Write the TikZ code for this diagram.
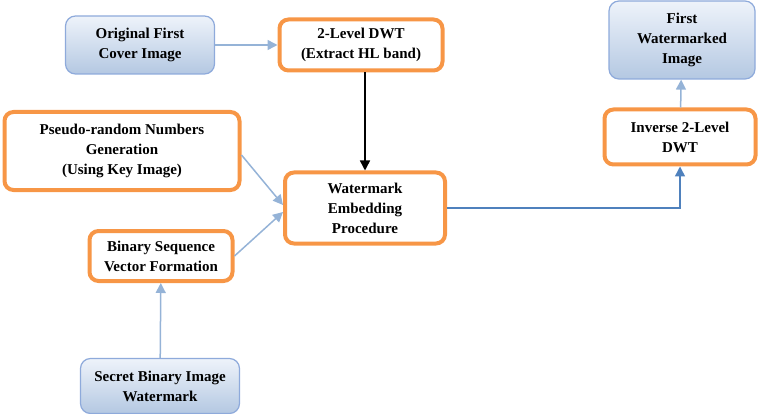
\documentclass[tikz,border=0pt]{standalone}
\usepackage{fontspec}
\setmainfont{Liberation Serif}
\usetikzlibrary{arrows.meta, positioning}

\definecolor{procorange}{HTML}{F79646}
\definecolor{srcedge}{HTML}{8EAADB}
\definecolor{srctop}{HTML}{EEF3FA}
\definecolor{srcbot}{HTML}{B4C8E2}
\definecolor{flowblue}{HTML}{95B3D7}
\definecolor{mainblue}{HTML}{4F81BD}

\tikzset{
  proc/.style = {draw=procorange, line width=4pt, rounded corners=9pt, fill=white,
                 align=center, font=\fontsize{15}{20}\selectfont\bfseries, inner sep=2pt},
  src/.style  = {draw=srcedge, line width=1.2pt, rounded corners=10pt,
                 top color=srctop, bottom color=srcbot,
                 align=center, font=\fontsize{15}{20}\selectfont\bfseries, inner sep=2pt},
  flow/.style = {draw=flowblue, line width=1.5pt, -{Triangle[width=10pt,length=10pt]}},
}

\begin{document}
\begin{tikzpicture}[x=1pt, y=-1pt]
            \useasboundingbox (0,0) rectangle (762,414);
            % inputs
            \node[src, minimum width=149, minimum height=58] (cover) at (140,45) {Original First\\Cover Image};
            \node[src, minimum width=159, minimum height=55] (secret) at (160,386) {Secret Binary Image\\Watermark};
            % processing blocks
            \node[proc, minimum width=163, minimum height=51] (dwt) at (361,45) {2-Level DWT\\(Extract HL band)};
            \node[proc, minimum width=235, minimum height=78] (prng) at (122,151) {Pseudo-random Numbers\\Generation\\(Using Key Image)};
            \node[proc, minimum width=143, minimum height=50] (binseq) at (161,256) {Binary Sequence\\Vector Formation};
            \node[proc, minimum width=160, minimum height=71] (embed) at (365,208) {Watermark\\Embedding\\Procedure};
            \node[proc, minimum width=151, minimum height=55] (idwt) at (680,137) {Inverse 2-Level\\DWT};
            % output
            \node[src, minimum width=146, minimum height=78] (wmimg) at (682,40) {First\\Watermarked\\Image};
            % connectors
            \draw[flow] (cover) -- (dwt);
            \draw[line width=1.5pt, -{Triangle[width=10pt,length=10pt]}] (dwt.south -| embed) -- (embed);
            \draw[flow] (prng.east |- 0,155) -- (embed.west |- 0,205);
            \draw[flow] (binseq.east) -- (embed.west |- 0,212);
            \draw[flow] (secret) -- (binseq);
            \draw[flow, draw=mainblue] (embed.east) -| (idwt.south);
            \draw[flow] (idwt) -- (wmimg);
        \end{tikzpicture}
\end{document}
